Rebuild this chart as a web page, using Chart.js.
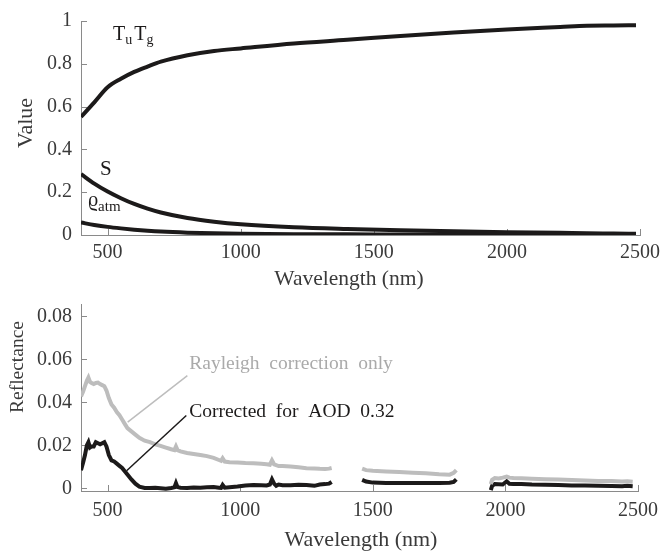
<!DOCTYPE html>
<html lang="en">

<head>
    <meta charset="UTF-8">
    <title>Atmospheric terms and reflectance</title>
    <script src="https://cdn.jsdelivr.net/npm/chart.js"></script>
    <style>
        body { margin: 0; background: #fff; }
        .wrap { position: relative; width: 666px; height: 555px; }
        canvas { position: absolute; left: 0; }
        #chart-top { top: 0; }
        #chart-bottom { top: 283px; }
    </style>
</head>

<body>
    <div class="wrap">
        <canvas id="chart-top" width="666" height="292"></canvas>
        <canvas id="chart-bottom" width="666" height="272"></canvas>
    </div>
</body>

</html>

<script>
    // top panel: transmittance, spherical albedo, path reflectance
    const wlTop = [400, 450, 500, 550, 600, 650, 700, 800, 900, 1000, 1200, 1400, 1600, 1800, 2000, 2200, 2300, 2400, 2485];
    const tuTg = [0.552, 0.62, 0.69, 0.73, 0.762, 0.787, 0.81, 0.84, 0.86, 0.872, 0.895, 0.912, 0.93, 0.946, 0.96, 0.972, 0.978, 0.979, 0.98];
    const sAlb = [0.285, 0.24, 0.203, 0.172, 0.145, 0.123, 0.105, 0.079, 0.062, 0.05, 0.036, 0.028, 0.022, 0.017, 0.013, 0.01, 0.008, 0.007, 0.006];
    const rhoAtm = [0.058, 0.047, 0.038, 0.031, 0.025, 0.02, 0.016, 0.011, 0.008, 0.006, 0.004, 0.003, 0.0025, 0.002, 0.0015, 0.001, 0.001, 0.001, 0.001];

    // bottom panel: reflectance spectra (null = water vapour gaps)
    const wlBot = [400, 408, 415, 422, 428, 434, 440, 448, 456, 464, 472, 480, 488, 496, 505, 515, 525, 535, 545, 555,
        565, 575, 590, 605, 620, 640, 660, 680, 700, 720, 740, 752, 758, 764, 775, 800, 825, 850, 875, 900,
        920, 928, 934, 942, 960, 990, 1020, 1050, 1080, 1100, 1112, 1120, 1128, 1136, 1145, 1160, 1190, 1220, 1250, 1280,
        1300, 1320, 1335, 1345, 1400,
        1460, 1475, 1500, 1550, 1600, 1650, 1700, 1750, 1790, 1805, 1815, 1880,
        1945, 1950, 1960, 1975, 1990, 2005, 2015, 2030, 2060, 2100, 2150, 2200, 2250, 2300, 2350, 2400, 2440, 2460, 2480];
    const rayleighOnly = [0.0427, 0.045, 0.0475, 0.050, 0.0515, 0.0495, 0.049, 0.0485, 0.049, 0.0492, 0.0485, 0.048, 0.0475, 0.0455, 0.042, 0.039, 0.0375, 0.0355, 0.034, 0.032,
        0.030, 0.028, 0.0265, 0.025, 0.0235, 0.0222, 0.0215, 0.0205, 0.0198, 0.019, 0.0182, 0.0178, 0.0195, 0.0178, 0.0172, 0.0165, 0.016, 0.0155, 0.015, 0.0142,
        0.0132, 0.0128, 0.014, 0.0125, 0.0122, 0.012, 0.0118, 0.0117, 0.0115, 0.0112, 0.011, 0.013, 0.0112, 0.0108, 0.0104, 0.0104, 0.0102, 0.0098, 0.0094, 0.0093,
        0.0091, 0.0090, 0.0092, 0.0095, null,
        0.0092, 0.0085, 0.0082, 0.0079, 0.0076, 0.0073, 0.007, 0.0066, 0.0064, 0.0072, 0.0085, null,
        0.002, 0.004, 0.0048, 0.0046, 0.005, 0.0055, 0.005, 0.0048, 0.0047, 0.0045, 0.0043, 0.0041, 0.0039, 0.0037, 0.0035, 0.0034, 0.0032, 0.0033, 0.0031];
    const aodCorrected = [0.0085, 0.012, 0.0155, 0.02, 0.0215, 0.019, 0.0195, 0.0195, 0.0215, 0.021, 0.0205, 0.021, 0.0215, 0.0195, 0.0155, 0.013, 0.0125, 0.0115, 0.0105, 0.0095,
        0.008, 0.0065, 0.0042, 0.0022, 0.0008, 0.0002, 0.0002, 0.0003, 0.0001, -0.0001, 0.0002, 0.0005, 0.0025, 0.0006, 0.0003, 0.0002, 0.0004, 0.0003, 0.0005, 0.0006,
        0.0003, 0.0002, 0.0016, 0.0003, 0.0005, 0.0009, 0.0014, 0.0016, 0.0015, 0.0014, 0.0018, 0.0042, 0.0022, 0.0012, 0.0018, 0.0015, 0.0015, 0.0017, 0.0016, 0.0012,
        0.0018, 0.002, 0.0022, 0.003, null,
        0.004, 0.0032, 0.0027, 0.0025, 0.0025, 0.0025, 0.0025, 0.0025, 0.0026, 0.003, 0.0042, null,
        -0.0008, 0.0012, 0.002, 0.0019, 0.0018, 0.0033, 0.0022, 0.0021, 0.002, 0.0018, 0.0017, 0.0016, 0.0014, 0.0013, 0.0012, 0.0011, 0.001, 0.0012, 0.001];

    const xTicks = [500, 1000, 1500, 2000, 2500];
    const yTicksTop = [0, 0.2, 0.4, 0.6, 0.8, 1];
    const yTicksBot = [0, 0.02, 0.04, 0.06, 0.08];

    const serif = 'Liberation Serif';
    const textColor = '#3a3a3a';
    const axisColor = '#8a8a8a';
    const lineBlack = '#1c1a1a';
    const lineGray = '#bdbdbd';

    function pts(xs, ys) {
        return xs.map((x, i) => ({ x: x, y: ys[i] }));
    }

    // small inward tick marks, drawn under the lines
    const inwardTicks = {
        id: 'inwardTicks',
        beforeDatasetsDraw(chart) {
            const ctx = chart.ctx;
            const x = chart.scales.x, y = chart.scales.y;
            ctx.save();
            ctx.strokeStyle = axisColor;
            ctx.lineWidth = 1;
            x.ticks.forEach(t => {
                const px = Math.round(x.getPixelForValue(t.value)) + 0.5;
                ctx.beginPath(); ctx.moveTo(px, x.top); ctx.lineTo(px, x.top - 6); ctx.stroke();
            });
            y.ticks.forEach(t => {
                const py = Math.round(y.getPixelForValue(t.value)) + 0.5;
                ctx.beginPath(); ctx.moveTo(y.right, py); ctx.lineTo(y.right + 6, py); ctx.stroke();
            });
            ctx.restore();
        }
    };

    // text with subscripts: parts = [[text, size, dy, extra], ...]
    function drawParts(ctx, px, py, parts, color) {
        ctx.fillStyle = color;
        ctx.textBaseline = 'alphabetic';
        ctx.textAlign = 'left';
        let cx = px;
        parts.forEach(p => {
            ctx.font = p[1] + 'px "' + serif + '"';
            ctx.fillText(p[0], cx, py + p[2]);
            cx += ctx.measureText(p[0]).width + (p[3] || 0);
        });
    }

    // axis title centred on (cx, cy), optionally rotated
    function drawTitle(ctx, text, cx, cy, size, rotated) {
        ctx.save();
        ctx.translate(cx, cy);
        if (rotated) ctx.rotate(-Math.PI / 2);
        ctx.font = size + 'px "' + serif + '"';
        ctx.fillStyle = textColor;
        ctx.textAlign = 'center';
        ctx.textBaseline = 'middle';
        ctx.fillText(text, 0, 0);
        ctx.restore();
    }

    function axisOpts(min, max, ticks, fitSize, horizontal, tickPad) {
        return {
            type: 'linear',
            min: min,
            max: max,
            afterBuildTicks: s => { s.ticks = ticks.map(v => ({ value: v })); },
            afterFit: s => { if (horizontal) s.height = fitSize; else s.width = fitSize; },
            grid: { display: false, drawTicks: false },
            border: { display: true, color: axisColor, width: 1 },
            ticks: {
                color: textColor,
                padding: tickPad,
                font: { family: serif, size: 20 },
                callback: v => String(v),
                maxRotation: 0
            },
            title: { display: false }
        };
    }

    const ctxTop = document.getElementById('chart-top');

    new Chart(ctxTop, {
        type: 'line',
        data: {
            datasets: [
                { label: 'TuTg', data: pts(wlTop, tuTg) },
                { label: 'S', data: pts(wlTop, sAlb) },
                { label: 'rho atm', data: pts(wlTop, rhoAtm) }
            ].map(d => Object.assign(d, {
                borderColor: lineBlack, borderWidth: 4, pointRadius: 0,
                cubicInterpolationMode: 'monotone', fill: false
            }))
        },
        options: {
            responsive: false,
            animation: false,
            layout: { autoPadding: false, padding: { left: 0, top: 13, right: 24, bottom: 0 } },
            plugins: { legend: { display: false }, tooltip: { enabled: false } },
            scales: {
                x: axisOpts(400, 2500, xTicks, 57, true, 6),
                y: axisOpts(0, 1, yTicksTop, 81, false, 9)
            }
        },
        plugins: [inwardTicks, {
            id: 'labelsTop',
            afterDraw(chart) {
                const ctx = chart.ctx, x = chart.scales.x, y = chart.scales.y;
                ctx.save();
                drawParts(ctx, x.getPixelForValue(520), y.getPixelForValue(0.913),
                    [['T', 20, 0, 0], ['u', 14, 4, 2], ['T', 20, 0, 0], ['g', 14, 4]], lineBlack);
                drawParts(ctx, x.getPixelForValue(471), y.getPixelForValue(0.279),
                    [['S', 21, 0]], lineBlack);
                drawParts(ctx, x.getPixelForValue(426), y.getPixelForValue(0.135),
                    [['ϱ', 20, 0, 0], ['atm', 15, 5]], lineBlack);
                drawTitle(ctx, 'Value', 26, 123, 22, true);
                drawTitle(ctx, 'Wavelength (nm)', 349, 279, 21.5, false);
                ctx.restore();
            }
        }]
    });

    const ctxBot = document.getElementById('chart-bottom');

    new Chart(ctxBot, {
        type: 'line',
        data: {
            datasets: [
                {
                    label: 'Rayleigh correction only', data: pts(wlBot, rayleighOnly),
                    borderColor: lineGray, borderWidth: 4
                },
                {
                    label: 'Corrected for AOD 0.32', data: pts(wlBot, aodCorrected),
                    borderColor: lineBlack, borderWidth: 4
                }
            ].map(d => Object.assign(d, { pointRadius: 0, tension: 0, spanGaps: false, fill: false }))
        },
        options: {
            responsive: false,
            animation: false,
            layout: { autoPadding: false, padding: { left: 0, top: 15, right: 23, bottom: 0 } },
            plugins: { legend: { display: false }, tooltip: { enabled: false } },
            scales: {
                x: axisOpts(400, 2500, xTicks, 64, true, 8),
                y: axisOpts(-0.0012, 0.0857, yTicksBot, 81, false, 9)
            }
        },
        plugins: [inwardTicks, {
            id: 'labelsBottom',
            afterDraw(chart) {
                const ctx = chart.ctx, x = chart.scales.x, y = chart.scales.y;
                ctx.save();
                ctx.lineWidth = 1.5;
                ctx.strokeStyle = lineGray;
                ctx.beginPath();
                ctx.moveTo(x.getPixelForValue(801), y.getPixelForValue(0.0524));
                ctx.lineTo(x.getPixelForValue(576), y.getPixelForValue(0.0308));
                ctx.stroke();
                ctx.strokeStyle = lineBlack;
                ctx.beginPath();
                ctx.moveTo(x.getPixelForValue(797), y.getPixelForValue(0.0339));
                ctx.lineTo(x.getPixelForValue(572), y.getPixelForValue(0.0082));
                ctx.stroke();
                drawParts(ctx, x.getPixelForValue(808), y.getPixelForValue(0.0555),
                    [['Rayleigh  correction  only', 19.5, 0]], '#aaaaaa');
                drawParts(ctx, x.getPixelForValue(808), y.getPixelForValue(0.033),
                    [['Corrected  for  AOD  0.32', 19.5, 0]], lineBlack);
                drawTitle(ctx, 'Reflectance', 18, 84, 19.5, true);
                drawTitle(ctx, 'Wavelength (nm)', 361, 257, 22, false);
                ctx.restore();
            }
        }]
    });
</script>
